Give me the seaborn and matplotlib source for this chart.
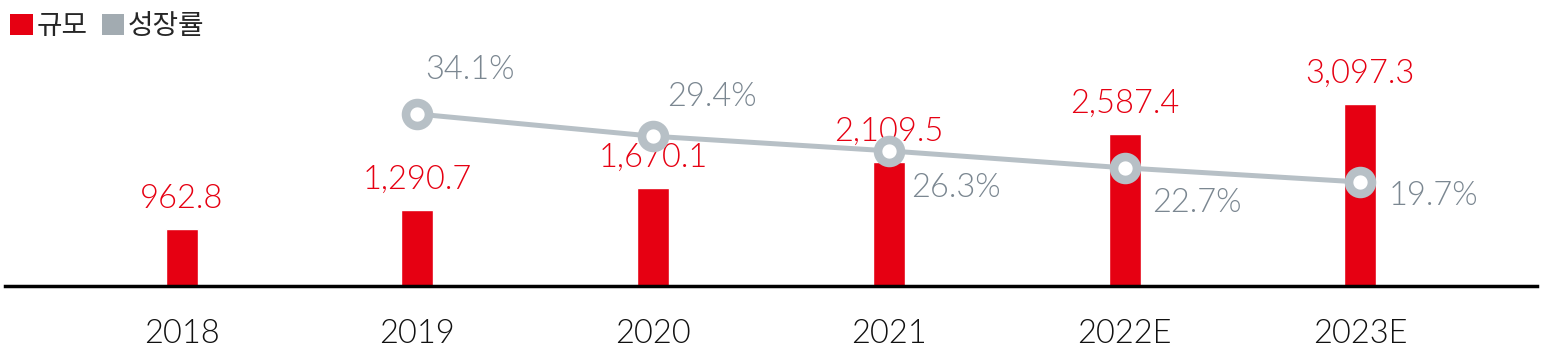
import matplotlib
matplotlib.use("Agg")
import matplotlib.pyplot as plt
import seaborn as sns
import pandas as pd
import numpy as np
from matplotlib.patches import Patch
from matplotlib import font_manager

years = ["2018", "2019", "2020", "2021", "2022E", "2023E"]
size_values = [962.8, 1290.7, 1670.1, 2109.5, 2587.4, 3097.3]
growth_years = ["2019", "2020", "2021", "2022E", "2023E"]
growth_values = [34.1, 29.4, 26.3, 22.7, 19.7]
legend_labels = ["규모", "성장률"]

RED = "#E60012"
GRAY_LINE = "#B7C0C6"
GRAY_TEXT = "#7B8791"
GRAY_LEG = "#A2ABB1"

sns.set_theme(style="white")
names = {f.name for f in font_manager.fontManager.ttflist}
num_font = "Lato" if "Lato" in names else "DejaVu Sans"
plt.rcParams["font.family"] = [num_font, "Noto Sans CJK KR", "DejaVu Sans"]
W = 300

fig = plt.figure(figsize=(15.45, 3.63), dpi=100)
ax = fig.add_axes([5 / 1545, (363 - 286) / 363, 1532 / 1545, 286 / 363])

df = pd.DataFrame({"year": years, "size": size_values})
sns.barplot(data=df, x="year", y="size", color=RED, width=0.136, ax=ax,
            saturation=1, order=years)
ax.set_xlim(-0.75, 5.75)
ax.set_ylim(0, 4867)

FS = 23.5
for i, v in enumerate(size_values):
    ax.annotate(f"{v:,.1f}", (i, v), xytext=(0, 11), textcoords="offset points",
                ha="center", va="bottom", color=RED, fontsize=FS, fontweight=W)

ax2 = ax.twinx()
gx = [years.index(y) for y in growth_years]
gdf = pd.DataFrame({"x": gx, "g": growth_values})
sns.lineplot(data=gdf, x="x", y="g", ax=ax2, color=GRAY_LINE, linewidth=3.6,
             marker="o", markersize=16.5, markerfacecolor="white",
             markeredgecolor=GRAY_LINE, markeredgewidth=6.2)
ax2.set_ylim(-2.33, 58.26)
ax2.set_xlim(-0.75, 5.75)

offsets = [(38, 32), (42, 28), (48, -27), (52, -25), (53, -10)]
for (x, g), off in zip(zip(gx, growth_values), offsets):
    ax2.annotate(f"{g:.1f}%", (x, g), xytext=off, textcoords="offset points",
                 ha="center", va="center", color=GRAY_TEXT, fontsize=FS,
                 fontweight=W)

for a in (ax, ax2):
    for s in ["top", "right", "left"]:
        a.spines[s].set_visible(False)
    a.set_yticks([])
    a.set_ylabel("")
    a.set_xlabel("")
ax2.spines["bottom"].set_visible(False)
ax.spines["bottom"].set_color("black")
ax.spines["bottom"].set_linewidth(2.5)
ax.set_xticks(range(len(years)))
ax.set_xticklabels(years)
ax.tick_params(axis="x", length=0, pad=24, labelsize=FS, labelcolor="#111111")
for t in ax.get_xticklabels():
    t.set_fontweight(W)

handles = [Patch(facecolor=RED, edgecolor="none"), Patch(facecolor=GRAY_LEG, edgecolor="none")]
leg = fig.legend(handles, legend_labels, loc="upper left", bbox_to_anchor=(-0.004, 1.015),
                 ncol=2, frameon=False, handlelength=0.8, handleheight=0.8,
                 handletextpad=0.15, columnspacing=0.5, borderaxespad=0.2,
                 prop={"family": ["Noto Sans CJK KR", "DejaVu Sans"], "size": 20,
                       "weight": W})

fig.savefig("out.png", dpi=100)
